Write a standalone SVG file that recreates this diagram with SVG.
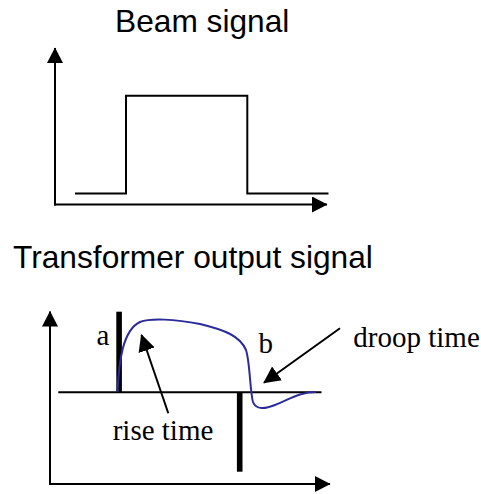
<svg xmlns="http://www.w3.org/2000/svg" width="481" height="494" viewBox="0 0 481 494">
  <defs>
    <marker id="ah" markerUnits="userSpaceOnUse" markerWidth="16" markerHeight="16" refX="15" refY="8" orient="auto" viewBox="0 0 16 16">
      <path d="M0,0 L15.5,8 L0,16 Z" fill="#000"/>
    </marker>
    <marker id="ahs" markerUnits="userSpaceOnUse" markerWidth="18" markerHeight="18" refX="16" refY="8.5" orient="auto" viewBox="0 0 18 17">
      <path d="M0,0 L17,8.5 L0,17 Z" fill="#000"/>
    </marker>
  </defs>
  <style>
    .title { font-family: "Liberation Sans", Arial, sans-serif; font-size: 31.7px; fill: #000; }
    .lbl { font-family: "Liberation Serif", "Times New Roman", serif; font-size: 29px; fill: #000; }
    .ax { stroke: #000; stroke-width: 2; fill: none; }
    .sig { stroke: #000; stroke-width: 2; fill: none; }
    .bar { fill: #000; }
    .curve { stroke: #2b2b9b; stroke-width: 2; fill: none; }
  </style>
  <rect width="481" height="494" fill="#fff"/>

  <g id="beam-chart">
    <text class="title" x="115" y="31.5">Beam signal</text>
    <line class="ax" x1="55" y1="205.5" x2="55" y2="48" marker-end="url(#ah)"/>
    <line class="ax" x1="54" y1="204.5" x2="327" y2="204.5" marker-end="url(#ah)"/>
    <polyline class="sig" points="75,193.5 126,193.5 126,95.7 247.3,95.7 247.3,193.5 328.5,193.5"/>
  </g>

  <g id="transformer-chart">
    <text class="title" x="13" y="268">Transformer output signal</text>
    <line class="ax" x1="50" y1="485" x2="50" y2="311.5" marker-end="url(#ah)"/>
    <line class="ax" x1="49" y1="484" x2="330" y2="484" marker-end="url(#ah)"/>
    <line class="ax" x1="58.3" y1="392.2" x2="321.5" y2="392.2"/>
    <rect class="bar" x="116.3" y="311.7" width="5.6" height="80.5"/>
    <rect class="bar" x="236.9" y="392" width="5.6" height="79.7"/>
    <path class="curve" d="M117.5,392 C119,360 123,330 140,322 C150,318 175,319 200,324 C225,330 240,336 246,350 C250,362 250,392 253,402 C256,410 265,409 275,405 C290,399 300,392 316,392"/>
    <text class="lbl" x="96.5" y="345">a</text>
    <text class="lbl" x="258.5" y="353.3">b</text>
    <text class="lbl" x="112.7" y="440">rise time</text>
    <text class="lbl" x="353.3" y="347">droop time</text>
  </g>

  <g id="connectors">
    <line class="ax" x1="168.3" y1="413.3" x2="141.5" y2="335" marker-end="url(#ahs)"/>
    <line class="ax" x1="340" y1="328.3" x2="264" y2="382.7" marker-end="url(#ahs)"/>
  </g>
</svg>
